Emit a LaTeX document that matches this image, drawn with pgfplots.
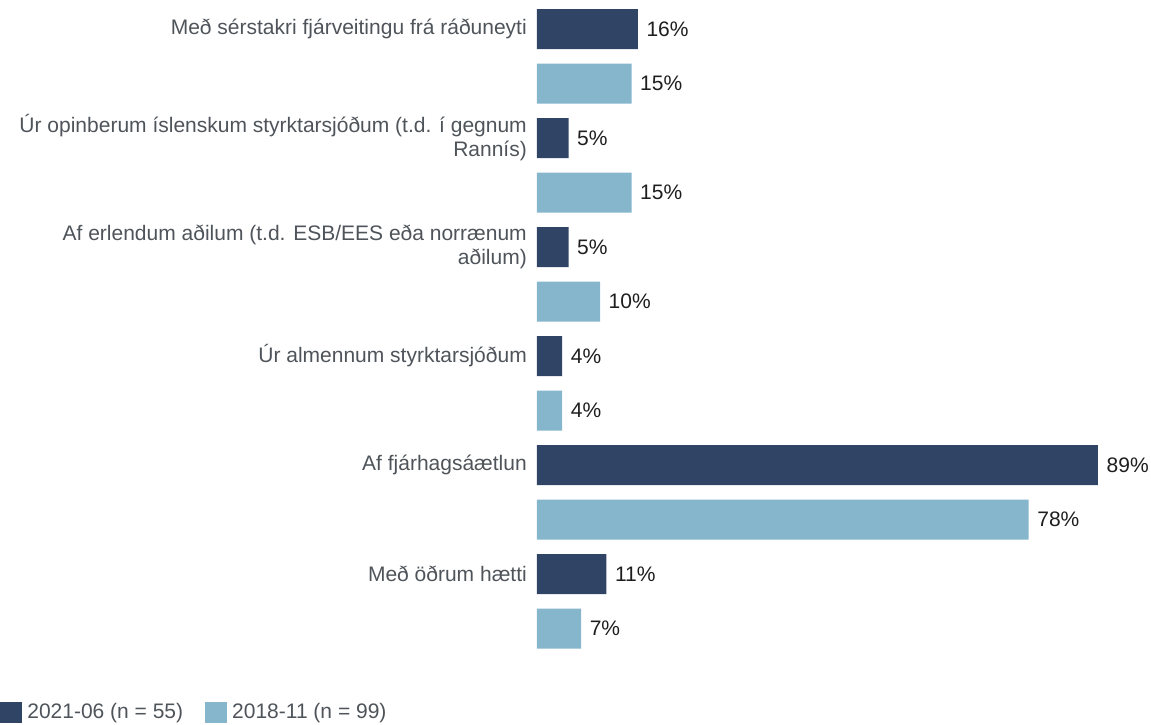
\documentclass[border=0pt]{standalone}
\usepackage{pgfplots}
\pgfplotsset{compat=1.18}
\usepackage{fontspec}
\setmainfont{Liberation Sans}
\definecolor{darkbar}{RGB}{48,69,101}
\definecolor{lightbar}{RGB}{134,182,204}
\definecolor{labelgray}{RGB}{78,84,90}
\definecolor{valtext}{RGB}{30,30,30}
\begin{document}
\begin{tikzpicture}
\path[use as bounding box] (0pt,0pt) rectangle (1151pt,724pt);
\begin{axis}[
  at={(537pt,68.25pt)}, anchor=south west,
  scale only axis, width=561pt, height=654pt,
  xmin=0, xmax=89, ymin=-0.5, ymax=11.5, y dir=reverse,
  xbar, bar width=40pt, bar shift=0pt,
  clip=false,
  axis line style={draw=none},
  major tick length=0pt,
  xtick=\empty,
  ytick={0,2,4,6,8,10},
  yticklabels={
    {Með sérstakri fjárveitingu frá ráðuneyti},
    {Úr opinberum íslenskum styrktarsjóðum (t.d. í gegnum\\Rannís)},
    {Af erlendum aðilum (t.d. ESB/EES eða norrænum\\aðilum)},
    {Úr almennum styrktarsjóðum},
    {Af fjárhagsáætlun},
    {Með öðrum hætti}},
  yticklabel style={align=right, inner xsep=0pt, xshift=-10pt,
    font=\fontsize{21}{24}\selectfont, text=labelgray},
  /pgf/number format/assume math mode=true,
  nodes near coords={\pgfmathprintnumber{\pgfplotspointmeta}\%},
  point meta=explicit,
  every node near coord/.append style={anchor=west, inner sep=0pt, xshift=8.5pt,
    font=\fontsize{21}{24}\selectfont, text=valtext},
  legend style={at={(-0.957,-0.086)}, anchor=west, draw=none, fill=none,
    inner sep=0pt, font=\fontsize{21}{24}\selectfont, text=labelgray,
    /tikz/every even column/.append style={column sep=17pt},
    nodes={inner xsep=5pt, inner ysep=0pt}},
  legend columns=2,
  legend cell align=left,
  legend image code/.code={\fill[#1] (0pt,-10.5pt) rectangle (22pt,10.5pt);},
]
\addplot[fill=darkbar, draw=none] table[x index=0, y index=1, meta index=0] {
16 0
5 2
5 4
4 6
89 8
11 10
};
\addplot[fill=lightbar, draw=none] table[x index=0, y index=1, meta index=0] {
15 1
15 3
10 5
4 7
78 9
7 11
};
\legend{2021-06 (n = 55), 2018-11 (n = 99)}
\end{axis}
\end{tikzpicture}
\end{document}
